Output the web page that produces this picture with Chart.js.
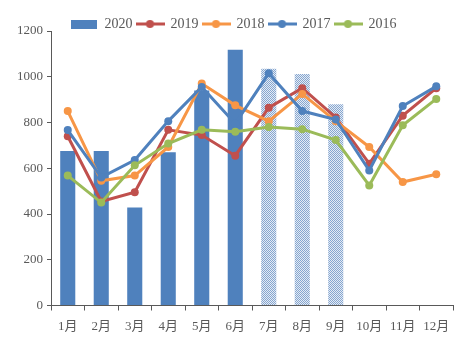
<!DOCTYPE html>
<html>
<head>
<meta charset="utf-8">
<script src="https://cdn.jsdelivr.net/npm/chart.js@4/dist/chart.umd.min.js"></script>
<style>
    html, body { margin: 0; padding: 0; background: #fff; }
    #wrap { width: 473px; height: 343px; }
</style>
</head>
<body>
<div id="wrap"><canvas id="salesChart" width="473" height="343"></canvas></div>
<script>
// 月份
const months = ['1月', '2月', '3月', '4月', '5月', '6月', '7月', '8月', '9月', '10月', '11月', '12月'];

// 2020年（7-9月为预估值）
const sales2020 = [675, 675, 428, 670, 940, 1118, 1035, 1012, 880, null, null, null];
const estimated2020 = [false, false, false, false, false, false, true, true, true, false, false, false];

// 往年数据
const sales2019 = [740, 455, 495, 768, 745, 655, 865, 950, 822, 620, 830, 950];
const sales2018 = [850, 545, 568, 693, 970, 875, 806, 925, 806, 693, 540, 574];
const sales2017 = [767, 560, 636, 806, 955, 795, 1015, 850, 813, 590, 872, 958];
const sales2016 = [568, 450, 613, 708, 768, 760, 780, 771, 723, 525, 788, 903];

// y轴刻度
const yMin = 0;
const yMax = 1200;
const yStep = 200;

const BLUE = '#4F81BD';
const RED = '#C0504D';
const ORANGE = '#F79646';
const GREEN = '#9BBB59';
const AXIS = '#595959';
const FONT = '"Liberation Serif", "DejaVu Serif", "Noto Sans CJK SC", serif';

// 预估柱子用的网点填充
function makeHatch() {
    const c = document.createElement('canvas');
    c.width = 2;
    c.height = 2;
    const g = c.getContext('2d');
    g.fillStyle = '#E4EBF5';
    g.fillRect(0, 0, 2, 2);
    g.fillStyle = '#86A6CF';
    g.fillRect(0, 0, 1, 1);
    g.fillRect(1, 1, 1, 1);
    return g.createPattern(c, 'repeat');
}

// 图例小图标
function legendBox(color) {
    const c = document.createElement('canvas');
    c.width = 26;
    c.height = 9;
    const g = c.getContext('2d');
    g.fillStyle = color;
    g.fillRect(0, 0, 26, 9);
    return c;
}

function legendLine(color) {
    const c = document.createElement('canvas');
    c.width = 29;
    c.height = 10;
    const g = c.getContext('2d');
    g.strokeStyle = color;
    g.lineWidth = 3;
    g.beginPath();
    g.moveTo(0, 5);
    g.lineTo(29, 5);
    g.stroke();
    g.fillStyle = color;
    g.beginPath();
    g.arc(14.5, 5, 4, 0, Math.PI * 2);
    g.fill();
    return c;
}

const hatch = makeHatch();

function lineSet(label, data, color, order) {
    return {
        type: 'line',
        label: label,
        data: data,
        borderColor: color,
        backgroundColor: color,
        borderWidth: 3,
        tension: 0,
        pointRadius: 4,
        pointBorderWidth: 0,
        pointBackgroundColor: color,
        order: order,
        legendIcon: legendLine(color)
    };
}

// 图例往右下挪一点，贴近绘图区
const legendShift = {
    id: 'legendShift',
    afterLayout(chart) {
        const lg = chart.legend;
        if (!lg) return;
        lg.top += 10;
        lg.bottom += 10;
        lg.left += 7;
        lg.right += 7;
    }
};

const ctx = document.getElementById('salesChart').getContext('2d');

new Chart(ctx, {
    data: {
        labels: months,
        datasets: [
            {
                type: 'bar',
                label: '2020',
                data: sales2020,
                backgroundColor: estimated2020.map(e => e ? hatch : BLUE),
                borderWidth: 0,
                categoryPercentage: 0.45,
                barPercentage: 1,
                order: 5,
                legendIcon: legendBox(BLUE)
            },
            lineSet('2019', sales2019, RED, 4),
            lineSet('2018', sales2018, ORANGE, 3),
            lineSet('2017', sales2017, BLUE, 2),
            lineSet('2016', sales2016, GREEN, 1)
        ]
    },
    plugins: [legendShift],
    options: {
        responsive: false,
        animation: false,
        layout: {
            padding: { left: 0, right: 20, top: 3, bottom: 0 }
        },
        plugins: {
            tooltip: { enabled: false },
            legend: {
                position: 'top',
                labels: {
                    usePointStyle: true,
                    pointStyleWidth: 27,
                    padding: 4,
                    color: AXIS,
                    font: { family: FONT, size: 14 },
                    generateLabels(chart) {
                        return chart.data.datasets.map((ds, i) => ({
                            text: ds.label,
                            fillStyle: ds.backgroundColor,
                            strokeStyle: ds.borderColor,
                            lineWidth: 0,
                            pointStyle: ds.legendIcon,
                            fontColor: AXIS,
                            hidden: false,
                            datasetIndex: i
                        }));
                    }
                }
            }
        },
        scales: {
            x: {
                offset: true,
                border: { display: true, color: AXIS, width: 1 },
                grid: {
                    offset: true,
                    drawOnChartArea: false,
                    drawTicks: true,
                    tickLength: 5,
                    color: AXIS
                },
                ticks: {
                    color: AXIS,
                    padding: 8,
                    maxRotation: 0,
                    autoSkip: false,
                    font: { family: FONT, size: 13 }
                },
                afterFit(scale) { scale.height = 37.5; }
            },
            y: {
                min: yMin,
                max: yMax,
                border: { display: true, color: AXIS, width: 1 },
                grid: {
                    drawOnChartArea: false,
                    drawTicks: true,
                    tickLength: 4,
                    color: AXIS
                },
                ticks: {
                    stepSize: yStep,
                    color: AXIS,
                    padding: 4,
                    font: { family: FONT, size: 13 },
                    callback: v => String(v)
                },
                afterFit(scale) { scale.width = 51; }
            }
        }
    }
});
</script>
</body>
</html>
